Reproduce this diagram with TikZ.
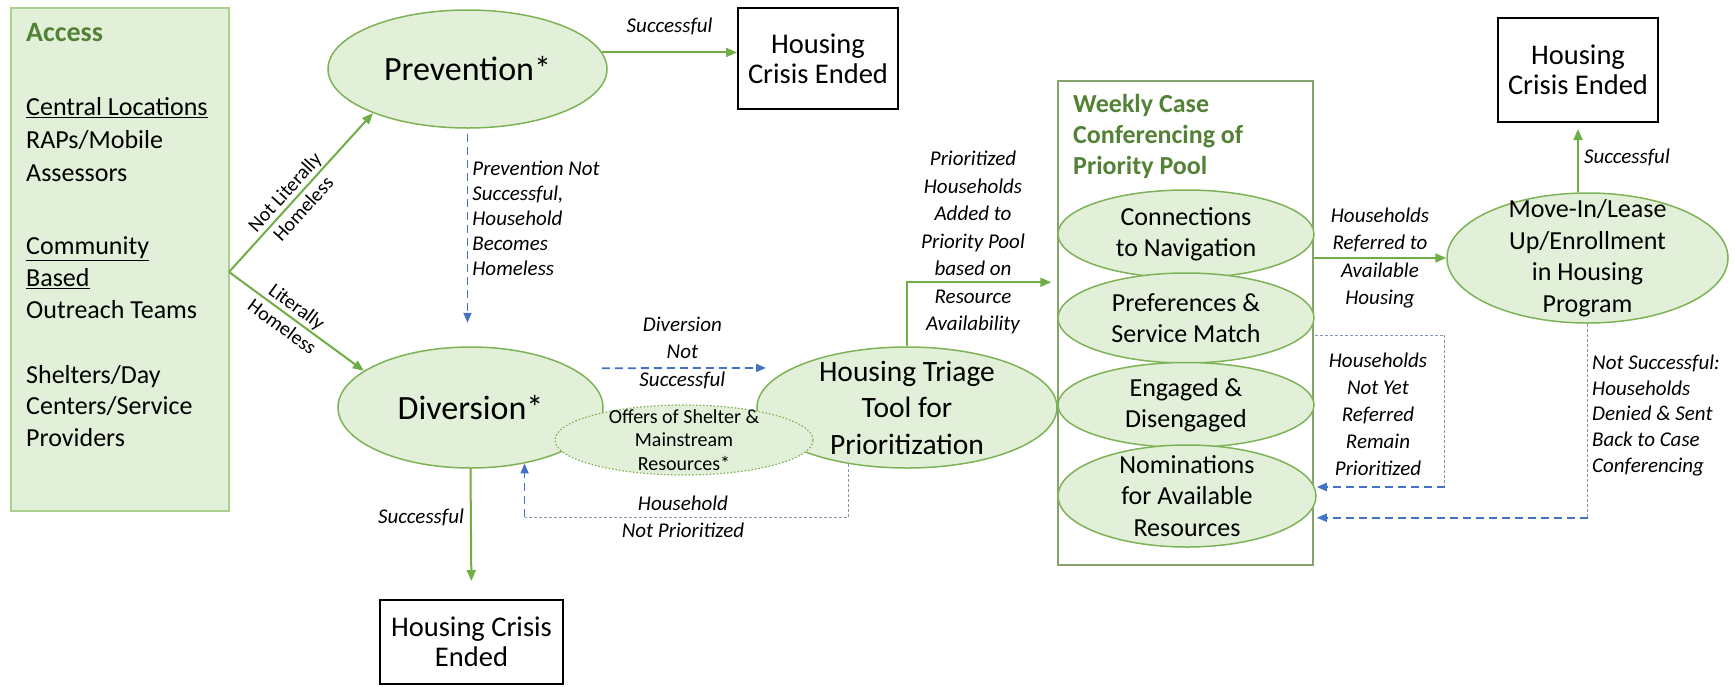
\documentclass[tikz,border=0pt]{standalone}
\usepackage{fontspec}
\setmainfont{Carlito}
\usetikzlibrary{shapes.geometric,arrows.meta,calc}
\definecolor{leaf}{HTML}{E2EFD9}
\definecolor{leafline}{HTML}{7DB356}
\definecolor{paneline}{HTML}{A9D08E}
\definecolor{poolline}{HTML}{86A36C}
\definecolor{titlegreen}{HTML}{538135}
\definecolor{flowgreen}{HTML}{70AD47}
\definecolor{backblue}{HTML}{4472C4}
\definecolor{thinblue}{HTML}{8496B0}
\newcommand{\fs}[2]{\fontsize{#1}{#2}\selectfont}

\begin{document}
\begin{tikzpicture}[x=1pt, y=-1pt,
    bubble/.style = {ellipse, draw=leafline, fill=leaf, line width=1.5pt,
                     inner sep=-40pt, align=center},
    crisis/.style = {rectangle, draw=black, line width=2pt, inner sep=0pt,
                     align=center, font=\fs{28.5}{30}},
    flow/.style = {draw=flowgreen, line width=2pt, -{Triangle[length=11pt,width=9pt]}},
    back/.style = {draw=backblue, line width=1.8pt, dash pattern=on 8pt off 5pt,
                   -{Triangle[length=10pt,width=8pt]}},
    thinback/.style = {draw=thinblue, line width=1pt, dash pattern=on 3pt off 2pt},
    note/.style = {font=\fs{21}{27.5}\itshape, align=center, inner sep=2pt},
    side/.style = {font=\fs{20}{25}, align=center, inner sep=1pt}]
    \useasboundingbox (0,0) rectangle (1735,686);

    % Access column
    \node[rectangle, draw=paneline, fill=leaf, line width=1.5pt, inner sep=0pt,
          minimum width=218pt, minimum height=503pt] (access) at (120,259.5) {};
    \node[anchor=west, inner sep=0pt, font=\fs{28}{32}\bfseries, text=titlegreen] (accesstitle) at (26,33) {Access};
    \node[anchor=west, inner sep=0pt, font=\fs{26}{33}, align=left] (central) at (26,140)
        {\underline{Central Locations}\\RAPs/Mobile\\Assessors};
    \node[anchor=west, inner sep=0pt, font=\fs{26}{32}, align=left] (community) at (26,278)
        {\underline{Community}\\\underline{Based}\\Outreach Teams};
    \node[anchor=west, inner sep=0pt, font=\fs{26}{31.5}, align=left] (shelters) at (26,406)
        {Shelters/Day\\Centers/Service\\Providers};

    % Prevention and Diversion
    \node[bubble, minimum width=279pt, minimum height=118pt, font=\fs{34}{40}] (prev) at (467.5,69) {Prevention*};
    \node[bubble, minimum width=265pt, minimum height=121pt, font=\fs{34}{40}] (div) at (470.5,407.5) {Diversion*};
    \node[bubble, minimum width=300pt, minimum height=121pt, font=\fs{29.5}{36.5}] (triage) at (907,407.5)
        {Housing Triage\\Tool for\\Prioritization};
    \node[bubble, dotted, line width=1.2pt, minimum width=258pt, minimum height=70pt, font=\fs{20}{23.5}] (offers) at (684,440)
        {Offers of Shelter \&\\Mainstream\\Resources*};

    % Housing Crisis Ended boxes
    \node[crisis, minimum width=160pt, minimum height=101pt] (endA) at (818,58.5) {Housing\\Crisis Ended};
    \node[crisis, minimum width=160pt, minimum height=104pt] (endB) at (1578,70) {Housing\\Crisis Ended};
    \node[crisis, minimum width=183pt, minimum height=84pt] (endC) at (471.5,642) {Housing Crisis\\Ended};

    % Weekly case conferencing
    \node[rectangle, draw=poolline, line width=1.5pt, inner sep=0pt,
          minimum width=255pt, minimum height=484pt] (pool) at (1185.5,323) {};
    \node[anchor=west, inner sep=0pt, font=\fs{26}{31}\bfseries, text=titlegreen, align=left] (pooltitle) at (1073,136)
        {Weekly Case\\Conferencing of\\Priority Pool};
    \node[bubble, minimum width=256pt, minimum height=88pt, font=\fs{26}{31}] (conn) at (1186,234) {Connections\\to Navigation};
    \node[bubble, minimum width=256pt, minimum height=90pt, font=\fs{26}{31}] (pref) at (1186,318) {Preferences \&\\Service Match};
    \node[bubble, minimum width=256pt, minimum height=85pt, font=\fs{26}{31}] (engd) at (1186,405) {Engaged \&\\Disengaged};
    \node[bubble, minimum width=258pt, minimum height=102pt, font=\fs{26}{31.5}] (nomin) at (1187,496)
        {Nominations\\for Available\\Resources};

    % Move-In
    \node[bubble, minimum width=281pt, minimum height=130pt, font=\fs{26}{31.5}] (movein) at (1587.5,258)
        {Move-In/Lease\\Up/Enrollment\\in Housing\\Program};

    % Green connectors
    \coordinate (branch) at (229,272);
    \draw[flow] (branch) -- (prev.205)
        node[side, pos=0.45, sloped] {Not Literally\\Homeless};
    \draw[flow] (branch) -- (div.161)
        node[side, pos=0.45, sloped] {Literally\\Homeless};
    \draw[flow] (prev.7) -- (prev.7 -| endA.west)
        node[note, midway, above=14pt] {Successful};
    \draw[flow, shorten >=18pt] (div.south) -- (endC.north)
        node[note, pos=0.37, left=4pt] {Successful};
    \draw[flow, shorten >=6pt] (triage.north) |- ($(pool.north west)+(0,202)$);
    \node[note] (priolbl) at (973,242.5)
        {Prioritized\\Households\\Added to\\Priority Pool\\based on\\Resource\\Availability};
    \draw[flow] (pool.east |- movein.west) -- (movein.west)
        node[note, midway] {Households\\Referred to\\Available\\Housing};
    \draw[flow, shorten >=6pt] (endB.south |- movein.north) -- (endB.south)
        node[note, midway, right=3pt] {Successful};

    % Blue dashed connectors
    \coordinate (pfail) at ($(prev.south)+(0,194)$);
    \draw[back] ([yshift=-5pt]prev.south) -- (pfail)
        node[note, pos=0.45, right=2pt, align=left, font=\fs{21}{25}\itshape]
        {Prevention Not\\Successful,\\Household\\Becomes\\Homeless};
    \draw[back, shorten <=29pt, shorten >=26pt] (div.21.5) -- (triage.161)
        node[note, midway, yshift=15.5pt] {Diversion\\Not\\Successful};
    \draw[thinback] (triage.224.5) -- ++(0,53.5) coordinate (hhA) -- (hhA -| div.-46.6) coordinate (hhturn);
    \draw[back] (hhturn) -- (div.-46.6);
    \node[note, font=\fs{21}{27}\itshape] (hhlbl) at (683,516.5) {Household\\Not Prioritized};
    \draw[thinback] ([yshift=-17pt]pref.east) -- ++(130,0) -- ++(0,152) coordinate (nyturn);
    \draw[back] (nyturn) -- (nyturn -| nomin.east);
    \node[note, font=\fs{21}{27}\itshape] (notyetlbl) at (1378,414)
        {Households\\Not Yet\\Referred\\Remain\\Prioritized};
    \draw[thinback] (movein.south) -- ++(0,194) coordinate (nsturn);
    \draw[back] (nsturn) -- (nsturn -| nomin.east);
    \node[note, anchor=west, align=left, font=\fs{21}{25.75}\itshape] (nslbl) at (1590,415.5)
        {Not Successful:\\Households\\Denied \& Sent\\Back to Case\\Conferencing};
\end{tikzpicture}
\end{document}
